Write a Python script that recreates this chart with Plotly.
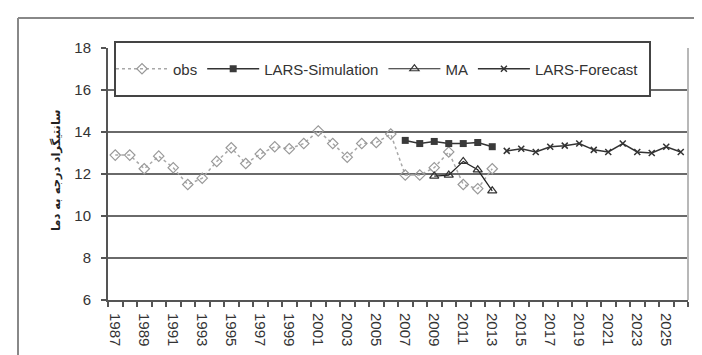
import plotly.graph_objects as go

obs_years = list(range(1987, 2014))
obs_vals = [12.9, 12.9, 12.25, 12.85, 12.3, 11.5, 11.8, 12.6, 13.25, 12.5,
            12.95, 13.3, 13.2, 13.45, 14.05, 13.45, 12.8, 13.45, 13.5, 13.9,
            11.95, 11.95, 12.3, 13.05, 11.5, 11.3, 12.25]

sim_years = list(range(2007, 2014))
sim_vals = [13.6, 13.45, 13.55, 13.45, 13.45, 13.5, 13.3]

ma_years = list(range(2009, 2014))
ma_vals = [11.9, 11.95, 12.6, 12.2, 11.2]

fc_years = list(range(2014, 2027))
fc_vals = [13.1, 13.2, 13.05, 13.3, 13.35, 13.45, 13.15, 13.05, 13.45, 13.05,
           13.0, 13.3, 13.05]

y_title = "دما\u200e به\u200e درجه\u200e سانتیگراد"

FONT = "Liberation Sans, Arial, sans-serif"

fig = go.Figure()
fig.add_trace(go.Scatter(
    x=obs_years, y=obs_vals, name="obs", mode="lines+markers",
    line=dict(color="#a8a8a8", width=1.5, dash="dot"),
    marker=dict(symbol="diamond-open", size=8, color="#999999", line=dict(width=1.2))))
fig.add_trace(go.Scatter(
    x=sim_years, y=sim_vals, name="LARS-Simulation", mode="lines+markers",
    line=dict(color="#333333", width=1.5),
    marker=dict(symbol="square", size=7, color="#3a3a3a")))
fig.add_trace(go.Scatter(
    x=ma_years, y=ma_vals, name="MA", mode="lines+markers",
    line=dict(color="#222222", width=1.2),
    marker=dict(symbol="triangle-up-open", size=8, color="#333333", line=dict(width=1.2))))
fig.add_trace(go.Scatter(
    x=fc_years, y=fc_vals, name="LARS-Forecast", mode="lines+markers",
    line=dict(color="#333333", width=1.5),
    marker=dict(symbol="x-thin-open", size=6, color="#333333", line=dict(width=1.5, color="#333333"))))

L, R, T, B = 100, 22, 40, 63
W, H = 702, 355
pw, ph = W - L - R, H - T - B

def px(xp):
    return (xp - L) / pw

def py(yp):
    return (H - B - yp) / ph

fig.update_layout(
    width=W, height=H,
    margin=dict(l=L, r=R, t=T, b=B),
    paper_bgcolor="white", plot_bgcolor="white",
    font=dict(family=FONT, size=14, color="#333333"),
    showlegend=True,
    legend=dict(orientation="h", x=px(103), y=py(61), xanchor="left", yanchor="middle",
                bgcolor="rgba(0,0,0,0)", borderwidth=0,
                font=dict(family=FONT, size=15, color="#333333"),
                itemwidth=52, traceorder="normal"),
    xaxis=dict(
        range=[1986.5, 2026.5], tickmode="linear", tick0=1987, dtick=2,
        ticks="", tickangle=90, showgrid=False, zeroline=False,
        showline=True, linecolor="#555555", linewidth=2,
        ticklabelstandoff=8,
        tickfont=dict(family=FONT, size=15, color="#333333"),
        minor=dict(tickmode="linear", tick0=1986.5, dtick=1, ticks="outside",
                   ticklen=5, tickwidth=1.5, tickcolor="#555555", showgrid=False),
    ),
    yaxis=dict(
        range=[6, 18], tickmode="linear", tick0=6, dtick=2,
        ticks="outside", ticklen=5, tickwidth=2, tickcolor="#555555",
        showgrid=True, gridcolor="#6a6a6a", gridwidth=2, zeroline=False,
        showline=True, linecolor="#555555", linewidth=2,
        ticklabelstandoff=7,
        tickfont=dict(family=FONT, size=15, color="#333333"),
    ),
    shapes=[
        dict(type="rect", xref="paper", yref="paper", x0=px(107), x1=px(642),
             y0=py(88), y1=py(34), fillcolor="white",
             line=dict(color="#444444", width=2), layer="above"),
        dict(type="line", xref="paper", yref="paper", x0=1, x1=1, y0=0, y1=1,
             line=dict(color="#b8b8b8", width=2)),
        dict(type="line", xref="paper", yref="paper", x0=px(10), x1=px(10),
             y0=py(10), y1=py(360), line=dict(color="#888888", width=2)),
        dict(type="line", xref="paper", yref="paper", x0=px(10), x1=px(710),
             y0=py(10), y1=py(10), line=dict(color="#888888", width=2)),
    ],
    annotations=[
        dict(text="<b>" + y_title + "</b>", xref="paper", yref="paper",
             x=px(48), y=py(162), textangle=-90, showarrow=False,
             xanchor="center", yanchor="middle",
             font=dict(family="DejaVu Sans, Noto Sans, sans-serif", size=11.5, color="#222222")),
    ],
)

fig.write_html("out.html")
